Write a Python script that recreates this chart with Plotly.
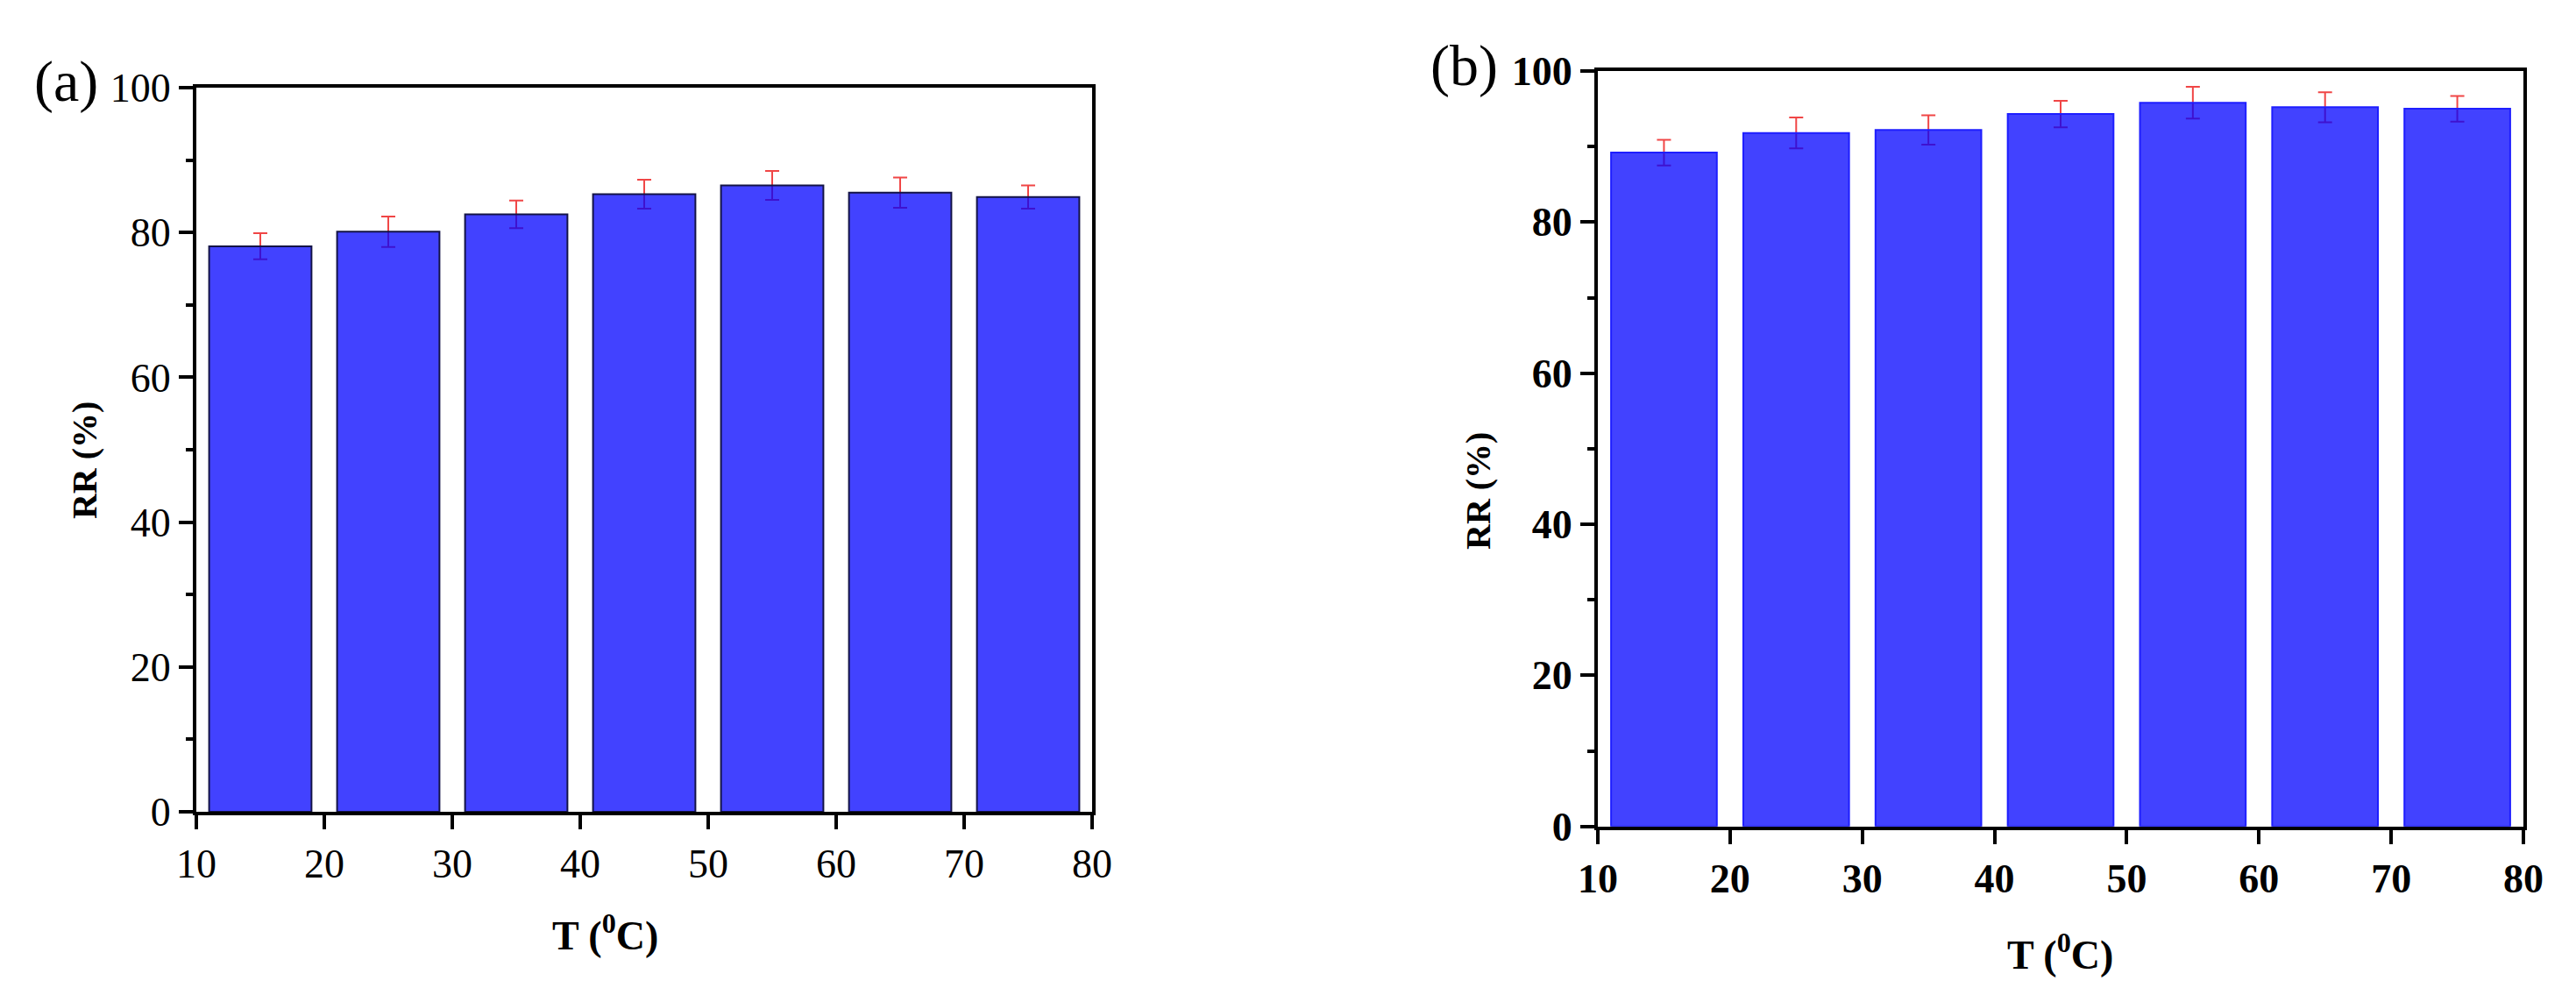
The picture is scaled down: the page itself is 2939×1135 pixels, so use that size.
import plotly.graph_objects as go

temps = [15, 25, 35, 45, 55, 65, 75]
x_ticks = [10, 20, 30, 40, 50, 60, 70, 80]

rr_a = [78.1, 80.1, 82.5, 85.3, 86.5, 85.5, 84.9]
err_a = [1.8, 2.1, 1.9, 2.0, 2.0, 2.1, 1.6]

rr_b = [89.2, 91.8, 92.2, 94.3, 95.8, 95.2, 95.0]
err_b = [1.7, 2.05, 1.95, 1.75, 2.1, 2.0, 1.7]

serif = "Liberation Serif"
bar_fill = "rgba(0,0,255,0.74)"
err_col = "rgb(240,70,70)"

fig = go.Figure()

def add_panel(fig, vals, errs, xa, ya, edge):
    # error bars first, the semi-transparent bars go on top of them
    fig.add_trace(go.Bar(x=temps, y=vals, width=8, xaxis=xa, yaxis=ya,
                         marker=dict(color="rgba(0,0,0,0)", line=dict(width=0)),
                         error_y=dict(type="data", array=errs, visible=True,
                                      color=err_col, thickness=2, width=8),
                         showlegend=False))
    fig.add_trace(go.Bar(x=temps, y=vals, width=8, xaxis=xa, yaxis=ya,
                         marker=dict(color=bar_fill, line=dict(color=edge, width=2)),
                         showlegend=False))

add_panel(fig, rr_a, err_a, "x", "y", "rgb(20,20,70)")
add_panel(fig, rr_b, err_b, "x2", "y2", "rgb(30,30,255)")

def xaxis_style(domain, anchor, bold):
    return dict(domain=domain, anchor=anchor, range=[10, 80], tickvals=x_ticks,
                showgrid=False, zeroline=False, showline=True, linecolor="black",
                linewidth=4, mirror=True, ticks="outside", ticklen=16, tickwidth=4,
                tickcolor="black", automargin=False,
                tickfont=dict(family=serif, size=46, color="black",
                              weight="bold" if bold else "normal"))

def yaxis_style(domain, anchor, bold):
    return dict(domain=domain, anchor=anchor, range=[0, 100], dtick=20,
                showgrid=False, zeroline=False, showline=True, linecolor="black",
                linewidth=4, mirror=True, ticks="outside", ticklen=16, tickwidth=4,
                tickcolor="black", automargin=False,
                minor=dict(dtick=10, ticks="outside", ticklen=8, tickwidth=4,
                           tickcolor="black", showgrid=False),
                tickfont=dict(family=serif, size=46, color="black",
                              weight="bold" if bold else "normal"))

# page body adds an 8px offset, domains are shifted back by that
fig.update_layout(
    width=2939, height=1135, autosize=False,
    margin=dict(l=0, r=0, t=0, b=0, pad=0, autoexpand=False),
    paper_bgcolor="white", plot_bgcolor="white",
    barmode="overlay",
    xaxis=xaxis_style([0.07349, 0.42123], "y", False),
    yaxis=yaxis_style([0.19119, 0.91894], "x", False),
    xaxis2=xaxis_style([0.61756, 0.97686], "y2", True),
    yaxis2=yaxis_style([0.17648, 0.93568], "x2", True),
)

y_title_font = dict(family=serif, size=40, color="black", weight="bold")
x_title_font = dict(family=serif, size=46, color="black", weight="bold")
notes = [
    dict(x=0.0303, y=0.5445, text="RR (%)", textangle=-90, font=y_title_font),
    dict(x=0.5713, y=0.5137, text="RR (%)", textangle=-90, font=y_title_font),
    dict(x=0.2321, y=0.0696, text="T (<sup>0</sup>C)", font=x_title_font),
    dict(x=0.7972, y=0.0502, text="T (<sup>0</sup>C)", font=x_title_font),
]
for n in notes:
    fig.add_annotation(xref="paper", yref="paper", showarrow=False,
                       xanchor="center", yanchor="middle", **n)

for lab, x, y in [("(a)", 0.0231, 0.9251), ("(b)", 0.5658, 0.941)]:
    fig.add_annotation(xref="paper", yref="paper", x=x, y=y, text=lab, showarrow=False,
                       xanchor="center", yanchor="middle",
                       font=dict(family=serif, size=66, color="black"))

fig.write_html("out.html")
